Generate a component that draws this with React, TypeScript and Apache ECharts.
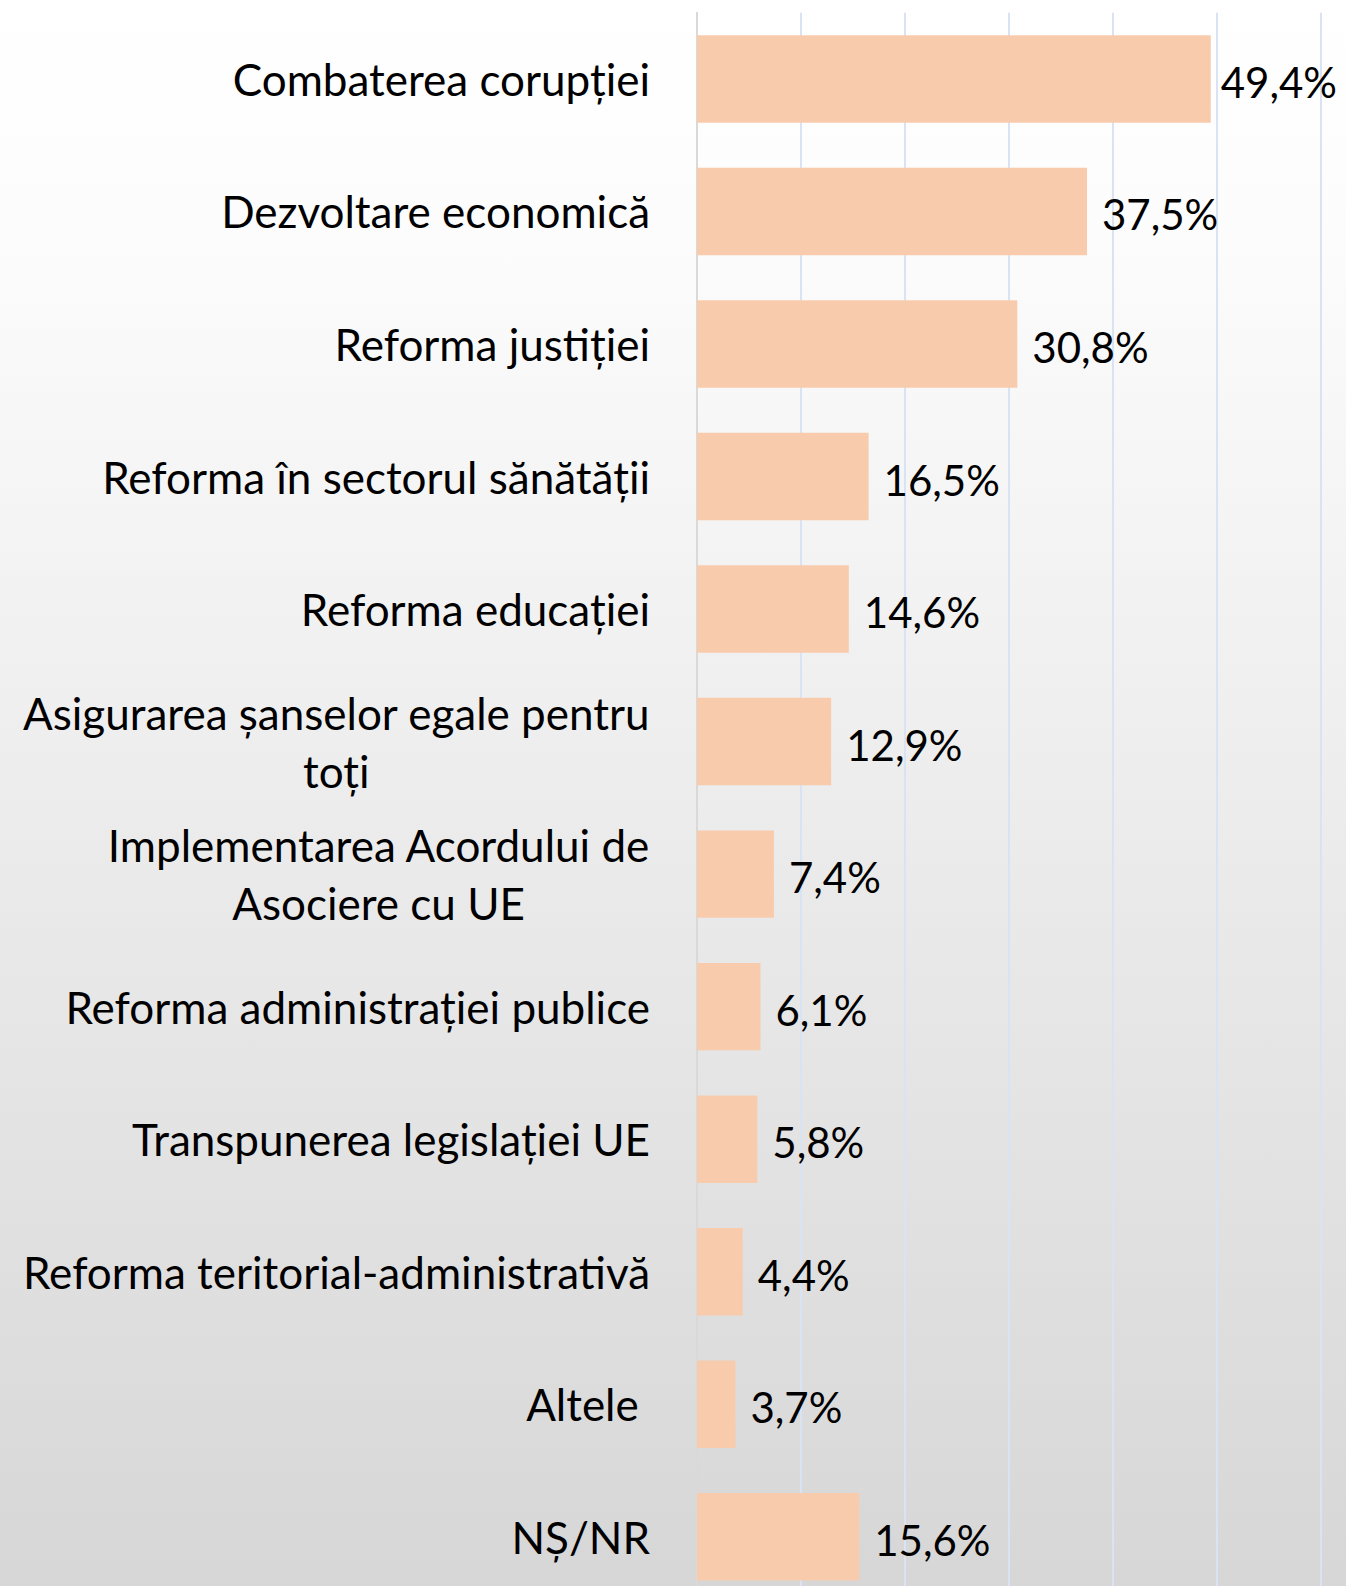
import React, { useEffect, useRef } from "react";
import * as echarts from "echarts";

const categories = [
  "Combaterea corupției",
  "Dezvoltare economică",
  "Reforma justiției",
  "Reforma în sectorul sănătății",
  "Reforma educației",
  "Asigurarea șanselor egale pentru\ntoți",
  "Implementarea Acordului de\nAsociere cu UE",
  "Reforma administrației publice",
  "Transpunerea legislației UE",
  "Reforma teritorial-administrativă",
  "Altele\u00a0",
  "NȘ/NR",
];

const values = [49.4, 37.5, 30.8, 16.5, 14.6, 12.9, 7.4, 6.1, 5.8, 4.4, 3.7, 15.6];

const xTicks = { min: 0, max: 60, interval: 10 };

export default function App() {
  const ref = useRef<HTMLDivElement>(null);
  useEffect(() => {
    if (!ref.current) return;
    const chart = echarts.init(ref.current, undefined, { renderer: "svg" });
    chart.setOption({
      animation: false,
      backgroundColor: new echarts.graphic.LinearGradient(0, 0, 0, 1, [
        { offset: 0, color: "#ffffff" },
        { offset: 0.15, color: "#fcfcfc" },
        { offset: 1, color: "#d6d6d6" },
      ]),
      grid: { left: 697, right: 25, top: 12.7, bottom: 0, containLabel: false },
      xAxis: {
        type: "value",
        min: xTicks.min,
        max: xTicks.max,
        interval: xTicks.interval,
        axisLabel: { show: false },
        axisLine: { show: false },
        axisTick: { show: false },
        splitLine: { show: true, lineStyle: { color: "#dae3f3", width: 2 } },
      },
      yAxis: {
        type: "category",
        inverse: true,
        data: categories,
        axisLine: { show: true, lineStyle: { color: "#d9d9d9", width: 2 } },
        axisTick: { show: false },
        axisLabel: {
          margin: 47,
          formatter: (v: string) =>
            v
              .split("\n")
              .map((l) => `{a|${l}}`)
              .join("\n"),
          rich: {
            a: {
              fontFamily: "Lato",
              fontSize: 44,
              color: "#000000",
              align: "center",
              lineHeight: 58,
            },
          },
        },
      },
      series: [
        {
          type: "bar",
          data: values.map((v, i) =>
            i === 0 ? { value: v, label: { distance: 10 } } : v
          ),
          barCategoryGap: "34%",
          itemStyle: { color: "#f8cbad" },
          label: {
            show: true,
            position: "right",
            distance: 15,
            fontFamily: "Lato",
            fontSize: 42,
            color: "#000000",
            offset: [0, 3],
            formatter: (p: any) => `${p.value.toFixed(1).replace(".", ",")}%`,
          },
        },
      ],
    });
    return () => chart.dispose();
  }, []);
  return (
    <div
      style={{
        position: "absolute",
        left: 0,
        top: 0,
        width: 1346,
        height: 1586,
        overflow: "hidden",
      }}
    >
      <div ref={ref} style={{ width: 1346, height: 1603 }} />
    </div>
  );
}
